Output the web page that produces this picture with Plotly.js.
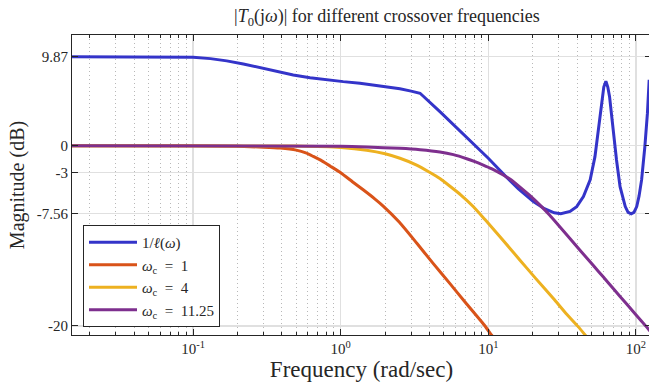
<!DOCTYPE html>
<html>
<head>
<meta charset="utf-8">
<script src="https://cdn.plot.ly/plotly-3.0.1.min.js"></script>
<style>html,body{margin:0;padding:0;overflow:hidden;background:#fff;width:649px;height:385px}</style>
</head>
<body>
<div id="chart"></div>
<script>
// 1/l(w)
const wBlue = [0.0151,0.05,0.08,0.1,0.131,0.169,0.219,0.284,0.368,0.477,0.62,0.804,1.04,1.35,1.94,2.52,3.0,3.45,4.7,6,7.9,10,13.3,16,20.2,24,28,31,35.8,39.7,44.1,49,52.8,55.6,58.6,60.6,62.6,64.5,66.3,70.1,73.9,78.1,84.7,88.5,92.9,97,101.3,105,109.3,115,119.7,123];
const magBlue = [9.87,9.87,9.84,9.8,9.65,9.4,9.06,8.65,8.2,7.84,7.54,7.28,7.1,6.92,6.6,6.3,6.05,5.81,3.77,2.1,0.27,-1.4,-3.5,-4.8,-6.2,-7.0,-7.45,-7.56,-7.3,-6.76,-5.65,-3.8,-1.22,1.74,5.0,6.5,7.15,6.5,5.43,1.74,-1.59,-4.55,-6.76,-7.4,-7.56,-7.4,-6.76,-5.6,-3.8,-0.1,3.6,7.3];
// wc = 1
const wOrange = [0.0151,0.1,0.2,0.3,0.389,0.5,0.58,0.652,0.75,0.846,1,1.2,1.42,1.7,1.94,2.5,3.27,4.2,5.5,7,9.5,10.5,11];
const magOrange = [0,-0.02,-0.08,-0.17,-0.27,-0.5,-0.8,-1.2,-1.72,-2.25,-3.0,-4.0,-4.9,-5.9,-6.7,-8.5,-10.8,-13.0,-15.3,-17.4,-20.0,-21.0,-21.4];
// wc = 4
const wYellow = [0.0151,0.5,1,1.5,2,2.52,3.27,4,4.7,5.5,6.5,7.9,9.5,12,16.4,21,27.6,34,40.8,48];
const magYellow = [0,-0.05,-0.2,-0.5,-0.9,-1.4,-2.15,-2.95,-3.65,-4.5,-5.45,-6.75,-8.2,-10.1,-12.7,-14.75,-16.95,-18.7,-20.1,-21.5];
// wc = 11.25
const wPurple = [0.0151,1,1.5,2.52,3.45,4.7,5.8,7.14,8.2,9.25,10.5,12,14,16.4,19,22.4,26,30.5,41.8,51.5,60,70.2,86.9,100,118,126];
const magPurple = [0,-0.07,-0.15,-0.3,-0.45,-0.7,-1.0,-1.45,-1.8,-2.15,-2.55,-3.05,-3.7,-4.6,-5.5,-6.6,-7.7,-9.0,-11.6,-13.3,-14.55,-15.85,-17.6,-18.75,-20.1,-20.65];

const names = ['1/<i>ℓ</i>(<i>ω</i>)','<i>ω</i><sub>c</sub>&nbsp;&nbsp;=&nbsp;&nbsp;1','<i>ω</i><sub>c</sub>&nbsp;&nbsp;=&nbsp;&nbsp;4','<i>ω</i><sub>c</sub>&nbsp;&nbsp;=&nbsp;&nbsp;11.25'];
const colors = ['#3434c9','#d95319','#edb120','#7e2f8e'];
const xTickVals = [0.1,1,10,100];
const xTickText = ['10<sup>-1</sup>','10<sup>0</sup>','10<sup>1</sup>','10<sup>2</sup>'];
const yTickVals = [-20,-7.56,-3,0,9.87];
const yTickText = ['-20','-7.56','-3','0','9.87'];

const minorVals = [];
for (let k=-2;k<=2;k++) for (let m=2;m<=9;m++) minorVals.push(m*Math.pow(10,k));

const series = [[wBlue,magBlue],[wOrange,magOrange],[wYellow,magYellow],[wPurple,magPurple]];
const traces = series.map((s,i)=>({
  x:s[0], y:s[1], type:'scatter', mode:'lines', name:names[i],
  line:{color:colors[i], width:3, shape: i===0?'linear':'spline', smoothing:0.5}
}));

const font = 'Liberation Serif';
const ink = '#262626';
const layout = {
  width:651, height:385,
  margin:{l:72, r:0, t:35, b:50},
  paper_bgcolor:'#fff', plot_bgcolor:'#fff',
  font:{family:font, size:15, color:ink},
  title:{text:'|<i>T</i><sub>0</sub>(j<i>ω</i>)| for different crossover frequencies',
    font:{family:font, size:18, color:ink}, x:0.544, xref:'paper', xanchor:'center',
    y:0.958, yref:'container', yanchor:'middle'},
  xaxis:{type:'log', range:[-1.8205,2.1023], tickmode:'array', tickvals:xTickVals, ticktext:xTickText,
    ticks:'inside', ticklen:6, tickcolor:ink, showline:true, linecolor:ink, linewidth:1, mirror:'ticks',
    showgrid:true, gridcolor:'#e0e0e0', gridwidth:1.3, zeroline:false,
    tickfont:{family:font, size:15, color:ink},
    minor:{tickmode:'array', tickvals:minorVals, ticks:'inside', ticklen:3, tickcolor:ink,
      showgrid:true, gridcolor:'#b8b8b8', griddash:'1px,3px', gridwidth:1},
    title:{text:'Frequency (rad/sec)', font:{family:font, size:23, color:ink}, standoff:3}},
  yaxis:{range:[-21,12.27], tickmode:'array', tickvals:yTickVals, ticktext:yTickText,
    ticks:'inside', ticklen:6, tickcolor:ink, showline:true, linecolor:ink, linewidth:1, mirror:'ticks',
    showgrid:true, gridcolor:'#e0e0e0', gridwidth:1.3, zeroline:false,
    tickfont:{family:font, size:15, color:ink},
    title:{text:'Magnitude (dB)', font:{family:font, size:20, color:ink}, standoff:6}},
  showlegend:true,
  legend:{x:0.019, y:0.367, xanchor:'left', yanchor:'top', bgcolor:'#fff', bordercolor:ink, borderwidth:1,
    font:{family:font, size:15, color:ink}, itemwidth:48, tracegroupgap:0}
};
Plotly.newPlot('chart', traces, layout, {displayModeBar:false, staticPlot:true});
</script>
</body>
</html>
